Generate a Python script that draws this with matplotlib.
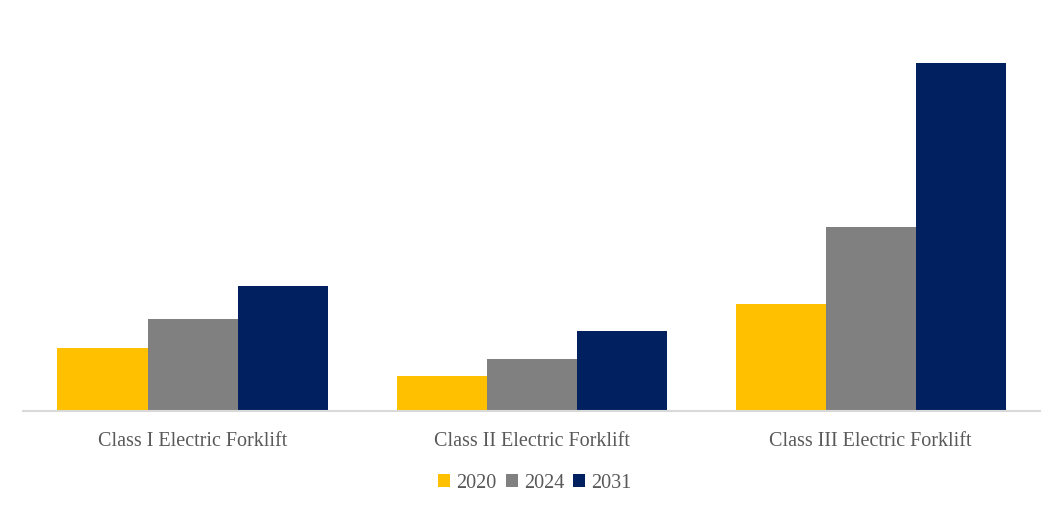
import matplotlib
matplotlib.use("Agg")
import matplotlib.pyplot as plt
import numpy as np

categories = ["Class I Electric Forklift", "Class II Electric Forklift", "Class III Electric Forklift"]
series_names = ["2020", "2024", "2031"]
values_2020 = [63, 35, 107]
values_2024 = [92, 52, 184]
values_2031 = [125, 80, 348]
colors = ["#FFC000", "#808080", "#002060"]

W, H = 1063, 514
fig = plt.figure(figsize=(W / 100, H / 100), dpi=100)
ax = fig.add_axes([23 / W, 103 / H, (1040 - 23) / W, 391 / H])

x = np.arange(len(categories))
bw = 90 / 339
series = [values_2020, values_2024, values_2031]
for i, (name, vals, c) in enumerate(zip(series_names, series, colors)):
    ax.bar(x + (i - 1) * bw, vals, width=bw, color=c, label=name, zorder=2)

ax.set_xlim(-0.5, 2.5)
ax.set_ylim(0, 391)
for s in ["top", "right", "left"]:
    ax.spines[s].set_visible(False)
ax.spines["bottom"].set_color("#D9D9D9")
ax.spines["bottom"].set_linewidth(1.5)
ax.set_yticks([])
ax.set_xticks(x)
ax.set_xticklabels(categories, fontfamily="Liberation Serif", fontsize=14.5, color="#595959")
ax.tick_params(axis="x", length=0, pad=15)

leg = fig.legend(loc="center", bbox_to_anchor=(535 / W, 1 - 483 / H), ncol=3, frameon=False,
                 prop={"family": "Liberation Serif", "size": 14.5}, handlelength=0.6, handleheight=0.6,
                 handletextpad=0.3, columnspacing=0.45)
for t in leg.get_texts():
    t.set_color("#595959")

fig.savefig("out.png", dpi=100)
